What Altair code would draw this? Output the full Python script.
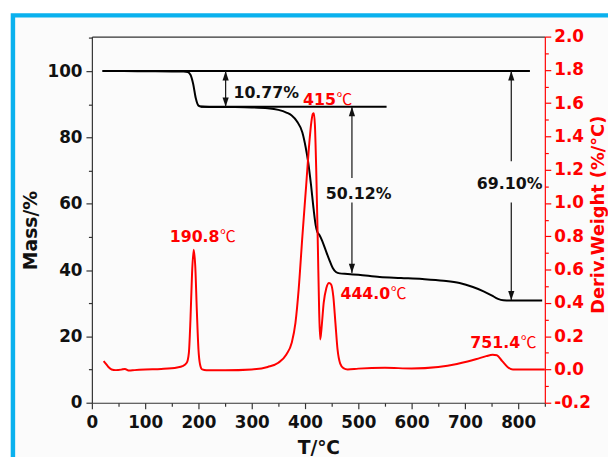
import altair as alt
import pandas as pd

# ---------------- data ----------------
# TG curve (left axis, Mass/%)
T_TG = [20, 60, 100, 150, 172, 180, 185, 190, 195, 200,
        205, 220, 260, 300, 330, 350, 365, 375, 385, 395,
        401, 406, 411, 416, 420, 423, 427, 432, 438, 445,
        452, 458, 465, 480, 500, 540, 580, 620, 660, 690,
        715, 735, 750, 762, 772, 800, 845]
MASS = [100, 100, 99.95, 99.9, 99.85, 99.7, 98.9, 96.2, 91.8, 89.6,
        89.3, 89.2, 89.15, 89.05, 88.8, 88.3, 87.5, 86.6, 84.8, 81.5,
        77.2, 72.5, 66, 58.5, 53.5, 51.5, 50.6, 48.9, 46.3, 43.3,
        40.6, 39.4, 39.0, 38.85, 38.6, 37.9, 37.6, 37.3, 36.8, 36.1,
        34.9, 33.6, 32.4, 31.3, 30.9, 30.8, 30.8]

# DTG curve (right axis, Deriv. Weight %/°C)
T_DTG = [22, 26, 31, 37, 45, 55, 62, 70, 80, 100,
         130, 160, 170, 178, 182, 185, 188, 191, 194, 197,
         200, 203, 207, 215, 250, 300, 330, 350, 365, 375,
         382, 388, 395, 402, 408, 412, 414.5, 416.5, 418.5, 421,
         424, 426.5, 428.5, 431, 435, 440, 445, 449, 453, 457,
         461, 466, 472, 480, 500, 550, 600, 650, 685, 705,
         722, 740, 752, 760, 770, 780, 790, 820, 850]
DTG = [0.05, 0.035, 0.015, 0.0, -0.004, -0.001, 0.003, -0.007, -0.004, 0.0,
       0.003, 0.012, 0.02, 0.04, 0.10, 0.30, 0.58, 0.72, 0.62, 0.35,
       0.12, 0.03, 0.0, -0.005, -0.005, 0.0, 0.015, 0.04, 0.09, 0.16,
       0.28, 0.48, 0.80, 1.10, 1.36, 1.49, 1.535, 1.54, 1.47, 1.2,
       0.75, 0.35, 0.18, 0.25, 0.40, 0.49, 0.52, 0.51, 0.44, 0.28,
       0.12, 0.035, 0.008, 0.0, 0.005, 0.01, 0.006, 0.015, 0.033, 0.048,
       0.063, 0.08, 0.088, 0.085, 0.05, 0.015, 0.0, 0.0, 0.0]

# axis ticks
X_TICKS = [0, 100, 200, 300, 400, 500, 600, 700, 800]
X_MINOR = [50, 150, 250, 350, 450, 550, 650, 750, 850]
MASS_TICKS = [0, 20, 40, 60, 80, 100]
MASS_MINOR = [10, 30, 50, 70, 90, 110]
DTG_TICKS = [-0.2, 0.0, 0.2, 0.4, 0.6, 0.8, 1.0, 1.2, 1.4, 1.6, 1.8, 2.0]
DTG_MINOR = [-0.1, 0.1, 0.3, 0.5, 0.7, 0.9, 1.1, 1.3, 1.5, 1.7, 1.9]

# horizontal reference levels (start T, end T, mass)
HL_X1 = [20, 204]
HL_X2 = [822, 553]
HL_Y = [100, 89.23]

# double arrows: vertical segments (T, from mass, to mass)
AR_T = [251, 488, 488, 787, 787]
AR_Y1 = [89.23, 67.8, 39.11, 72.8, 30.9]
AR_Y2 = [100, 89.23, 60.4, 100, 60.4]
HEAD_UP_T = [251, 488, 787]
HEAD_UP_Y = [100, 89.23, 100]
HEAD_DN_T = [251, 488, 787]
HEAD_DN_Y = [89.23, 39.11, 30.9]

# mass-loss labels
ML_TEXT = ["10.77%", "50.12%", "69.10%"]
ML_T = [265.6, 500.7, 784]
ML_Y = [93.3, 62.9, 65.8]
ML_ALIGN = ["left", "center", "center"]

# peak temperature labels (DTG scale)
PK_NUM = ["190.8", "415", "444.0", "751.4"]
PK_UNIT = ["℃", "℃", "℃", "℃"]
PK_T = [239.6, 458.1, 560.0, 803.7]
PK_V = [0.796, 1.618, 0.455, 0.158]

# ---------------- styling ----------------
FONT = "DejaVu Sans"
CJK = "Noto Sans CJK SC"
RED = "#FF0000"
INK = "#111111"
AXC = "#333333"

x_scale = alt.Scale(domain=[0, 850], nice=False, zero=False)
m_scale = alt.Scale(domain=[0, 110.4], nice=False, zero=False)
d_scale = alt.Scale(domain=[-0.2, 2.0], nice=False, zero=False)

tg = pd.DataFrame({"T": T_TG, "mass": MASS})
dtg = pd.DataFrame({"T": T_DTG, "d": DTG})
hl = pd.DataFrame({"x1": HL_X1, "x2": HL_X2, "y": HL_Y})
ar = pd.DataFrame({"T": AR_T, "y1": AR_Y1, "y2": AR_Y2})
hu = pd.DataFrame({"T": HEAD_UP_T, "y": HEAD_UP_Y})
hd = pd.DataFrame({"T": HEAD_DN_T, "y": HEAD_DN_Y})
ml = pd.DataFrame({"T": ML_T, "y": ML_Y, "t": ML_TEXT, "a": ML_ALIGN})
pk = pd.DataFrame({"T": PK_T, "v": PK_V, "num": PK_NUM, "unit": PK_UNIT})

lab = dict(labelFont=FONT, labelFontSize=17, labelFontWeight="bold",
           labelFlush=False, labelOverlap=False, grid=False, zindex=1)

x_main = alt.Axis(values=X_TICKS, title="T/℃", domainColor=AXC, domainWidth=1.2,
                  tickColor=AXC, tickWidth=1.2, tickSize=6, labelColor=INK,
                  labelPadding=6, titleFont=FONT, titleFontSize=19,
                  titleFontWeight="bold", titleColor=INK, titleY=45,
                  titleBaseline="middle", **lab)
x_minor = alt.Axis(values=X_MINOR, title=None, labels=False, domain=False,
                   tickColor=AXC, tickWidth=1.2, tickSize=3.5, grid=False, zindex=1)
x_top = alt.Axis(orient="top", values=[0], title=None, labels=False, ticks=False,
                 domain=True, domainColor=AXC, domainWidth=1.2, grid=False, zindex=1)

m_main = alt.Axis(orient="left", values=MASS_TICKS, title="Mass/%",
                  domainColor=AXC, domainWidth=1.2, tickColor=AXC, tickWidth=1.2,
                  tickSize=6, labelColor=INK, labelPadding=4,
                  titleFont=FONT, titleFontSize=19, titleFontWeight="bold",
                  titleColor=INK, titleAngle=270, titleX=-62, titleY=196,
                  titleBaseline="middle", titleAlign="center", **lab)
m_minor = alt.Axis(orient="left", values=MASS_MINOR, title=None, labels=False,
                   domain=False, tickColor=AXC, tickWidth=1.2, tickSize=3.5,
                   grid=False, zindex=1)

d_main = alt.Axis(orient="right", values=DTG_TICKS,
                  labelExpr="replace(format(datum.value, '.1f'), '\u2212', '-')",
                  title="Deriv.Weight (%/°C)", domainColor=RED, domainWidth=1.2,
                  tickColor=RED, tickWidth=1.2, tickSize=6, labelColor=RED,
                  labelPadding=3, titleFont=FONT, titleFontSize=18,
                  titleFontWeight="bold", titleColor=RED, titleAngle=270,
                  titleX=54.5, titleY=180, titleBaseline="middle",
                  titleAlign="center", **lab)
d_minor = alt.Axis(orient="right", values=DTG_MINOR, title=None, labels=False,
                   domain=False, tickColor=RED, tickWidth=1.2, tickSize=3.5,
                   grid=False, zindex=1)

# ---------------- layers ----------------
frame = alt.Chart(pd.DataFrame({"k": [0]})).mark_rect(
    fill="#FBFBFB", stroke="#0AB1EE", strokeWidth=4.5
).encode(x=alt.value(-80), x2=alt.value(700), y=alt.value(-21.5), y2=alt.value(600))

top_layer = alt.Chart(tg).mark_point(opacity=0).encode(
    x=alt.X("T:Q", scale=x_scale, axis=x_top),
    y=alt.Y("mass:Q", scale=m_scale, axis=None))

mass_minor = alt.Chart(tg).mark_point(opacity=0).encode(
    x=alt.X("T:Q", scale=x_scale, axis=x_minor),
    y=alt.Y("mass:Q", scale=m_scale, axis=m_minor))

mass_line = alt.Chart(tg).mark_line(color="#000000", strokeWidth=2,
                                    interpolate="monotone").encode(
    x=alt.X("T:Q", scale=x_scale, axis=x_main),
    y=alt.Y("mass:Q", scale=m_scale, axis=m_main))

dtg_minor = alt.Chart(dtg).mark_point(opacity=0).encode(
    x=alt.X("T:Q", scale=x_scale, axis=None),
    y=alt.Y("d:Q", scale=d_scale, axis=d_minor))

dtg_line = alt.Chart(dtg).mark_line(color=RED, strokeWidth=2,
                                    interpolate="monotone").encode(
    x=alt.X("T:Q", scale=x_scale, axis=None),
    y=alt.Y("d:Q", scale=d_scale, axis=d_main))

hlines = alt.Chart(hl).mark_rule(color="#000000", strokeWidth=2).encode(
    x=alt.X("x1:Q", scale=x_scale, axis=None), x2="x2:Q",
    y=alt.Y("y:Q", scale=m_scale, axis=None))

arrows = alt.Chart(ar).mark_rule(color=INK, strokeWidth=1.2).encode(
    x=alt.X("T:Q", scale=x_scale, axis=None),
    y=alt.Y("y1:Q", scale=m_scale, axis=None), y2="y2:Q")

heads_up = alt.Chart(hu).mark_point(
    shape="M0,0L-0.6,1.8L0.6,1.8Z", filled=True, size=110, color=INK,
    opacity=1, strokeWidth=0).encode(
    x=alt.X("T:Q", scale=x_scale, axis=None),
    y=alt.Y("y:Q", scale=m_scale, axis=None))

heads_dn = alt.Chart(hd).mark_point(
    shape="M0,0L-0.6,-1.8L0.6,-1.8Z", filled=True, size=110, color=INK,
    opacity=1, strokeWidth=0).encode(
    x=alt.X("T:Q", scale=x_scale, axis=None),
    y=alt.Y("y:Q", scale=m_scale, axis=None))

ml_left = alt.Chart(ml).transform_filter("datum.a == 'left'").mark_text(
    align="left", baseline="middle", font=FONT, fontSize=16,
    fontWeight="bold", color=INK).encode(
    x=alt.X("T:Q", scale=x_scale, axis=None),
    y=alt.Y("y:Q", scale=m_scale, axis=None), text="t:N")

ml_center = alt.Chart(ml).transform_filter("datum.a == 'center'").mark_text(
    align="center", baseline="middle", font=FONT, fontSize=16,
    fontWeight="bold", color=INK).encode(
    x=alt.X("T:Q", scale=x_scale, axis=None),
    y=alt.Y("y:Q", scale=m_scale, axis=None), text="t:N")

pk_num = alt.Chart(pk).mark_text(
    align="right", baseline="middle", font=FONT, fontSize=16,
    fontWeight="bold", color=RED).encode(
    x=alt.X("T:Q", scale=x_scale, axis=None),
    y=alt.Y("v:Q", scale=d_scale, axis=None), text="num:N")

pk_unit = alt.Chart(pk).mark_text(
    align="left", baseline="middle", font=CJK, fontSize=16,
    fontWeight="normal", color=RED, dx=0.5).encode(
    x=alt.X("T:Q", scale=x_scale, axis=None),
    y=alt.Y("v:Q", scale=d_scale, axis=None), text="unit:N")

chart = alt.layer(
    frame, top_layer, mass_minor, mass_line, dtg_minor, dtg_line,
    hlines, arrows, heads_up, heads_dn, ml_left, ml_center, pk_num, pk_unit
).resolve_scale(
    y="independent"
).resolve_axis(
    x="independent", y="independent"
).properties(
    width=459, height=371,
    padding={"left": 85, "top": 26, "right": 64, "bottom": 52},
    autosize=alt.AutoSizeParams(type="none"),
    background="white"
).configure_view(stroke=None)

chart.save("out.html", embed_options={"renderer": "svg", "actions": False})
